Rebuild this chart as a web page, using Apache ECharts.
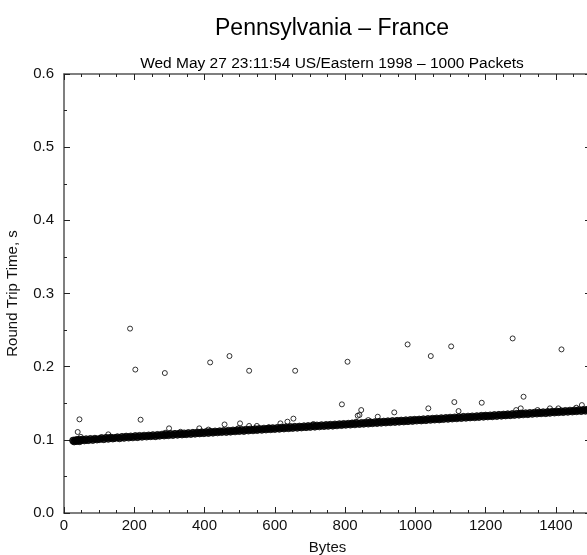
<!DOCTYPE html>
<html>
<head>
<meta charset="utf-8">
<script src="https://cdn.jsdelivr.net/npm/echarts@6/dist/echarts.min.js"></script>
<style>
  html, body { margin: 0; padding: 0; background: #fff; }
  #main { width: 587px; height: 555px; }
</style>
</head>
<body>
<div id="main"></div>
<script>
// main band of packets (bytes, seconds)
const bandX = [
  26, 29, 33, 36, 40, 44, 47,
  52, 58, 63, 69, 75, 82, 88, 94,
  101, 107, 113, 120, 126, 133, 139, 145,
  152, 158, 165, 171, 177, 184, 190, 196,
  203, 209, 215, 222, 228, 235, 241, 247,
  253, 260, 266, 272, 279, 285, 291, 297,
  304, 310, 316, 323, 329, 336, 342, 348,
  354, 361, 367, 373, 380, 386, 392, 398,
  405, 411, 417, 424, 430, 437, 443, 449,
  455, 462, 468, 474, 481, 487, 493, 499,
  506, 512, 518, 525, 531, 538, 544, 550,
  556, 563, 569, 575, 582, 588, 594, 600,
  607, 613, 619, 626, 632, 639, 645, 651,
  657, 664, 670, 676, 683, 689, 695, 701,
  708, 714, 720, 727, 733, 740, 746, 752,
  758, 765, 771, 777, 784, 790, 796, 802,
  809, 815, 821, 828, 834, 841, 847, 853,
  859, 866, 872, 878, 885, 891, 897, 903,
  910, 916, 922, 929, 935, 942, 948, 954,
  960, 967, 973, 979, 986, 992, 998, 1004,
  1011, 1017, 1023, 1030, 1036, 1043, 1049, 1055,
  1061, 1068, 1074, 1080, 1087, 1093, 1099, 1105,
  1112, 1118, 1124, 1131, 1137, 1144, 1150, 1156,
  1162, 1169, 1175, 1181, 1188, 1194, 1200, 1206,
  1213, 1219, 1225, 1232, 1238, 1245, 1251, 1257,
  1263, 1270, 1276, 1282, 1289, 1295, 1301, 1307,
  1314, 1320, 1326, 1333, 1339, 1346, 1352, 1358,
  1364, 1371, 1377, 1383, 1390, 1396, 1402, 1408,
  1415, 1421, 1427, 1434, 1440, 1447, 1453, 1459,
  1465, 1472, 1478, 1484, 1490
];
const bandY = [
  .0990, .0978, .0995, .0985, .1000, .0982, .0996,
  .1003, .0992, .1008, .0996, .1012, .0999, .1015, .1004,
  .1010, .1024, .1009, .1027, .1014, .1031, .1018, .1026,
  .1035, .1021, .1040, .1027, .1044, .1031, .1046, .1034,
  .1051, .1037, .1054, .1042, .1057, .1045, .1060, .1049,
  .1064, .1050, .1067, .1056, .1071, .1059, .1074, .1063,
  .1079, .1066, .1082, .1070, .1086, .1073, .1088, .1077,
  .1092, .1080, .1096, .1084, .1100, .1088, .1103, .1091,
  .1106, .1094, .1110, .1098, .1114, .1102, .1117, .1106,
  .1121, .1108, .1124, .1112, .1128, .1116, .1131, .1120,
  .1135, .1122, .1139, .1127, .1142, .1130, .1146, .1134,
  .1149, .1137, .1153, .1141, .1157, .1145, .1160, .1148,
  .1163, .1151, .1167, .1155, .1171, .1159, .1174, .1163,
  .1178, .1165, .1181, .1169, .1185, .1173, .1188, .1177,
  .1192, .1180, .1196, .1184, .1200, .1188, .1203, .1191,
  .1206, .1194, .1210, .1198, .1214, .1202, .1217, .1206,
  .1220, .1208, .1224, .1212, .1228, .1216, .1231, .1220,
  .1235, .1222, .1239, .1227, .1242, .1230, .1246, .1234,
  .1249, .1237, .1253, .1241, .1257, .1245, .1260, .1248,
  .1263, .1251, .1267, .1255, .1271, .1259, .1274, .1263,
  .1277, .1265, .1281, .1269, .1285, .1273, .1288, .1277,
  .1292, .1279, .1296, .1284, .1299, .1287, .1303, .1291,
  .1306, .1294, .1310, .1298, .1314, .1302, .1317, .1306,
  .1320, .1308, .1324, .1312, .1328, .1316, .1331, .1320,
  .1334, .1322, .1338, .1326, .1342, .1330, .1345, .1334,
  .1349, .1336, .1353, .1341, .1356, .1344, .1360, .1348,
  .1363, .1351, .1367, .1355, .1371, .1359, .1374, .1363,
  .1377, .1365, .1381, .1369, .1385, .1373, .1388, .1377,
  .1391, .1379, .1395, .1383, .1399, .1387, .1402, .1391,
  .1406, .1393, .1409, .1398, .1412
];
// packets above the band
const outX = [
  188, 203, 287, 416, 471, 527, 658, 807, 978, 1044, 1102, 1277, 1416,
  44, 218, 39, 48, 126, 299, 385, 457, 501, 527, 549, 616, 636, 653, 710,
  288, 332, 411, 496, 584, 791, 846, 841, 836, 940, 1037, 1111, 1189,
  1308, 1123, 1287, 1300, 1348, 1383, 1407, 1458, 1474, 893, 866, 831, 819
];
const outY = [
  .252, .196, .1913, .2058, .2145, .1944, .1944, .2067, .2304, .2145, .2277, .2386, .2236,
  .128, .1275, .1107, .104, .1075, .1157, .1157, .121, .1225, .119, .119, .1225, .1248, .129, .1216,
  .1097, .111, .114, .1157, .117, .1485, .1407, .134, .133, .1375, .143, .1516, .1507,
  .1589, .1393, .1407, .143, .1407, .143, .143, .1439, .1475, .1316, .127, .1248, .1234
];

const xTicks = { min: 0, max: 1500, interval: 200 };
const yTicks = { min: 0, max: 0.6, interval: 0.1 };

const bandPts = bandX.map((x, i) => [x, bandY[i]]);
const outPts = outX.map((x, i) => [x, outY[i]]);

const font = '"Liberation Sans", Arial, sans-serif';
const axisCol = '#555';

function xAxis(pos, labels) {
  return {
    type: 'value', position: pos, min: xTicks.min, max: xTicks.max, interval: xTicks.interval,
    axisLine: { show: true, onZero: false, lineStyle: { color: axisCol, width: 1.5 } },
    axisTick: { show: true, inside: true, length: 6, lineStyle: { color: '#222' } },
    minorTick: { show: true, splitNumber: 4, length: 3, lineStyle: { color: '#222' } },
    axisLabel: { show: labels, color: '#111', fontSize: 15, fontFamily: font, margin: 5,
      showMaxLabel: false, formatter: v => String(v) },
    splitLine: { show: false }
  };
}
function yAxis(pos, labels) {
  return {
    type: 'value', position: pos, min: yTicks.min, max: yTicks.max, interval: yTicks.interval,
    axisLine: { show: true, onZero: false, lineStyle: { color: axisCol, width: 1.5 } },
    axisTick: { show: true, inside: true, length: 6, lineStyle: { color: '#222' } },
    minorTick: { show: true, splitNumber: 2, length: 3, lineStyle: { color: '#222' } },
    axisLabel: { show: labels, color: '#111', fontSize: 15, fontFamily: font, margin: 10,
      formatter: v => v.toFixed(1) },
    splitLine: { show: false }
  };
}

const chart = echarts.init(document.getElementById('main'));
const xa = xAxis('bottom', true);
xa.name = 'Bytes';
xa.nameLocation = 'middle';
xa.nameGap = 27;
xa.nameTextStyle = { color: '#111', fontSize: 15, fontFamily: font };
const ya = yAxis('left', true);
ya.name = 'Round Trip Time, s';
ya.nameLocation = 'middle';
ya.nameGap = 44;
ya.nameTextStyle = { color: '#111', fontSize: 15, fontFamily: font };

chart.setOption({
  animation: false,
  title: [
    { text: 'Pennsylvania – France', left: 327, top: 12, textAlign: 'center',
      textStyle: { fontSize: 23, fontWeight: 'normal', color: '#000', fontFamily: font } },
    { text: 'Wed May 27 23:11:54 US/Eastern 1998 – 1000 Packets', left: 327, top: 51, textAlign: 'center',
      textStyle: { fontSize: 15.5, fontWeight: 'normal', color: '#000', fontFamily: font } }
  ],
  grid: { left: 64, top: 74, width: 527, height: 439, outerBoundsMode: 'none', containLabel: false },
  xAxis: [xa, xAxis('top', false)],
  yAxis: [ya, yAxis('right', false)],
  series: [
    {
      type: 'scatter',
      data: bandPts,
      symbol: 'circle',
      symbolSize: 7,
      itemStyle: { color: '#000', borderColor: '#000', borderWidth: 1 }
    },
    {
      type: 'scatter',
      data: outPts,
      symbol: 'circle',
      symbolSize: 5,
      itemStyle: { color: 'rgba(0,0,0,0)', borderColor: '#000', borderWidth: 1 }
    }
  ]
});
</script>
</body>
</html>
